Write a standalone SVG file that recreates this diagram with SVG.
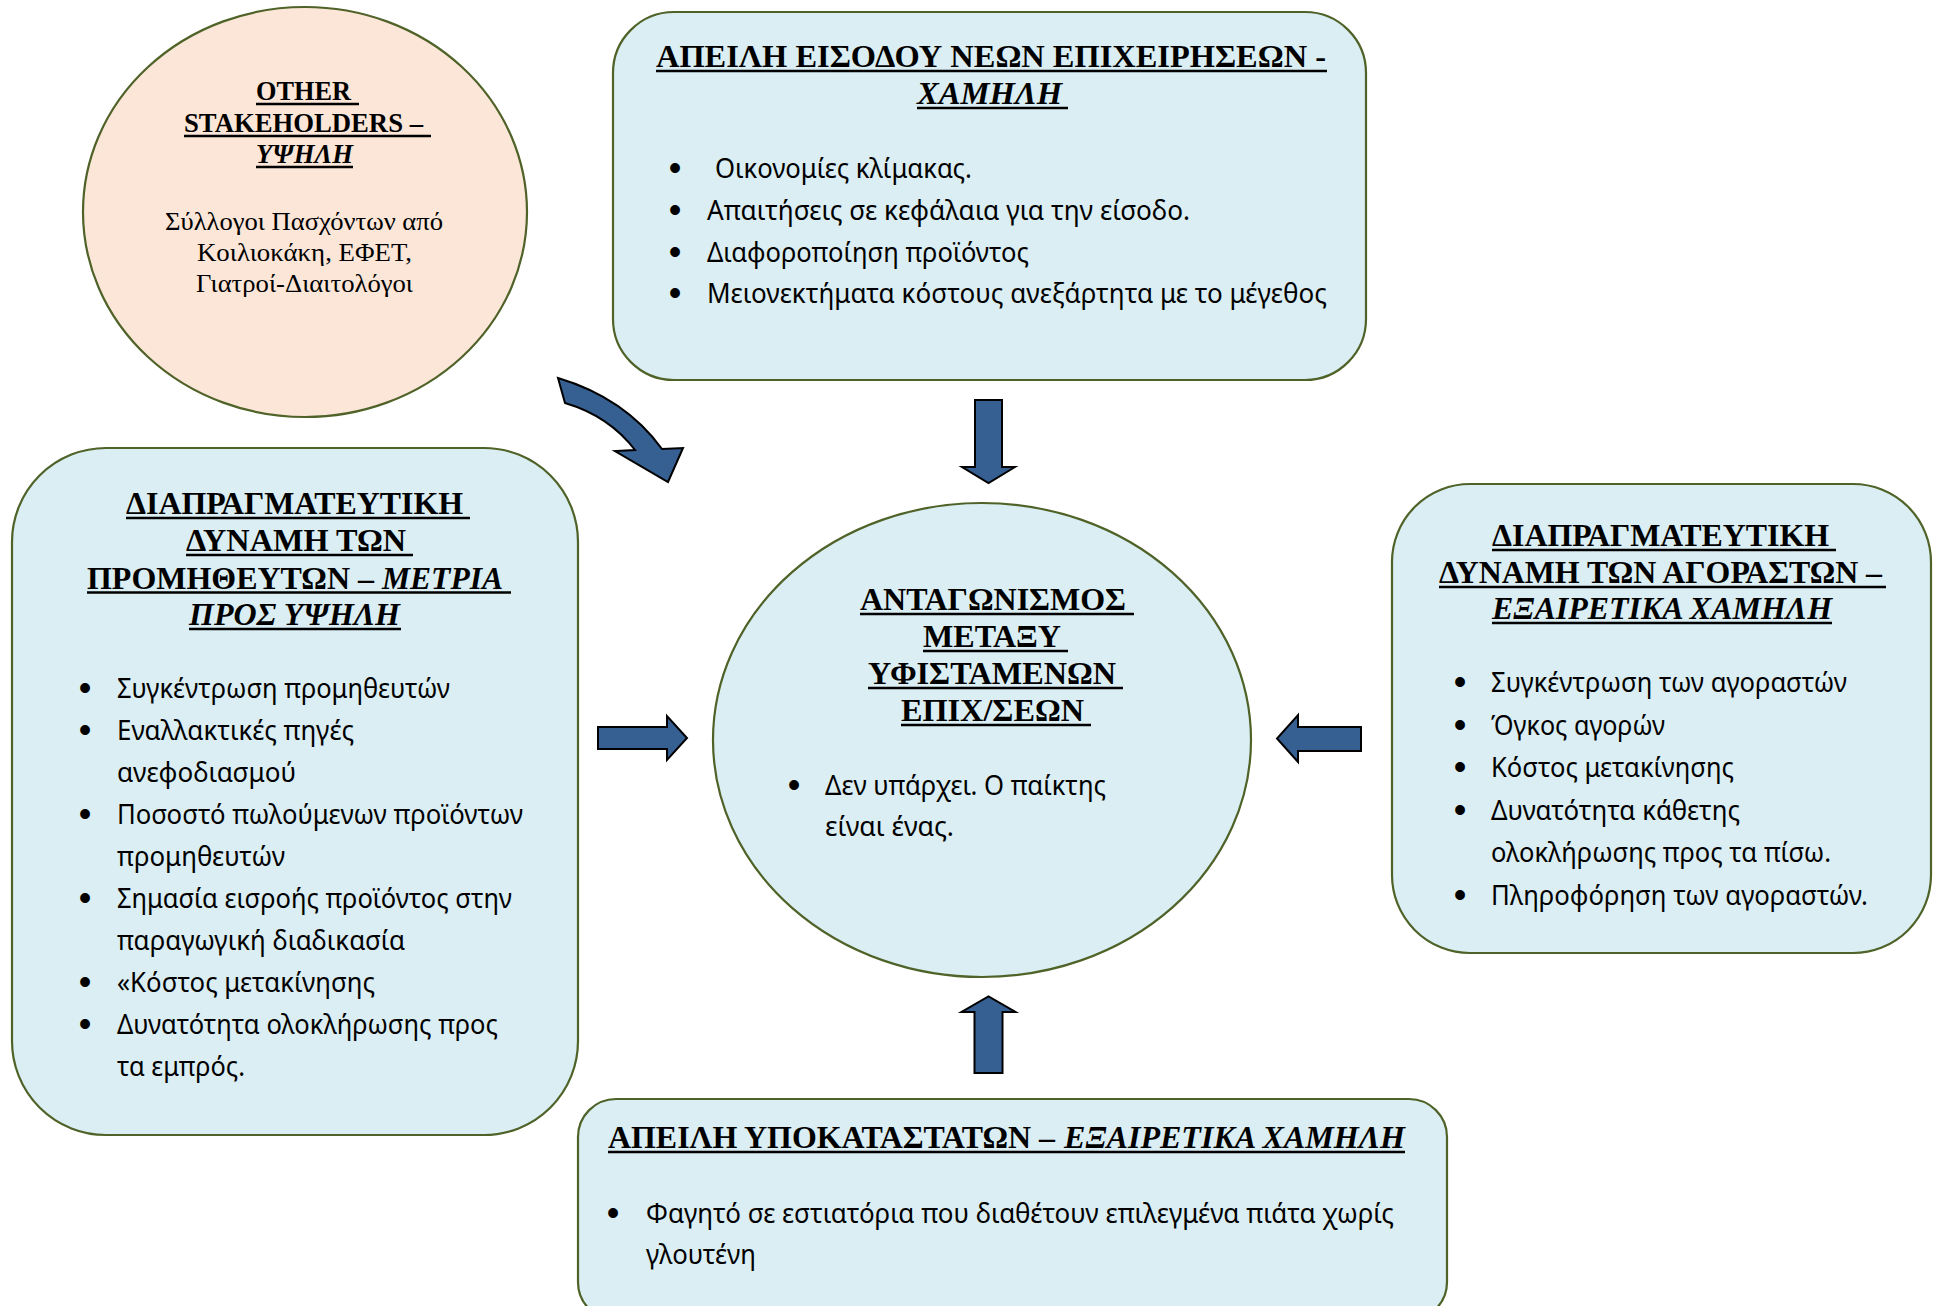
<svg xmlns="http://www.w3.org/2000/svg" width="1935" height="1306" viewBox="0 0 1935 1306">
<style>
.box{fill:#DAEEF3;stroke:#4F6228;stroke-width:2.2}
.peach{fill:#FCE6D8;stroke:#4F6228;stroke-width:2.2}
.t{font-family:"Liberation Serif","Times New Roman",serif;font-weight:bold;font-size:32px;fill:#000}
.ti{font-family:"Liberation Serif","Times New Roman",serif;font-weight:bold;font-style:italic;font-size:32px;fill:#000}
.st{font-family:"Liberation Serif","Times New Roman",serif;font-weight:bold;font-size:27px;fill:#000}
.sti{font-family:"Liberation Serif","Times New Roman",serif;font-weight:bold;font-style:italic;font-size:27px;fill:#000}
.sb{font-family:"Liberation Serif","Times New Roman",serif;font-size:25px;fill:#000}
.b{font-family:"Noto Sans","Open Sans","DejaVu Sans",sans-serif;font-size:28px;fill:#000}
.d{font-family:"Liberation Sans",Arial,sans-serif;font-size:36px;fill:#000;text-anchor:middle}
.ul{stroke:#000;stroke-width:2.6}
.arr{fill:#376092;stroke:#000;stroke-width:2;stroke-linejoin:miter}
</style>

<g id="connectors">
<path class="arr" d="M558 378 Q625 398 662 449 L683 448 L668 482 L615 451 L635 450 Q609 416 565 403 Z"/>
<path class="arr" d="M975 400 H1002 V467 H1015 L988.5 483 L962 467 H975 Z"/>
<path class="arr" d="M974.5 1073 V1012 H961.5 L988.5 996.5 L1015.5 1012 H1002.5 V1073 Z"/>
<path class="arr" d="M598 727 H667 V716 L687 738 L667 760 V749 H598 Z"/>
<path class="arr" d="M1361 727 H1298 V715 L1277 738.5 L1298 762 V751 H1361 Z"/>
</g>

<g id="node-stakeholders">
<ellipse class="peach" cx="305" cy="212" rx="222" ry="205"/>
<text class="st" x="256" y="100" textLength="95" lengthAdjust="spacingAndGlyphs">OTHER</text>
<line class="ul" x1="256" y1="104" x2="359" y2="104"/>
<text class="st" x="184" y="132" textLength="239" lengthAdjust="spacingAndGlyphs">STAKEHOLDERS –</text>
<line class="ul" x1="184" y1="136" x2="431" y2="136"/>
<text class="sti" x="256" y="163" textLength="97" lengthAdjust="spacingAndGlyphs">ΥΨΗΛΗ</text>
<line class="ul" x1="256" y1="167" x2="353" y2="167"/>
<text class="sb" x="165" y="230" textLength="278" lengthAdjust="spacingAndGlyphs">Σύλλογοι Πασχόντων από</text>
<text class="sb" x="197" y="261" textLength="215" lengthAdjust="spacingAndGlyphs">Κοιλιοκάκη, ΕΦΕΤ,</text>
<text class="sb" x="196" y="292" textLength="217" lengthAdjust="spacingAndGlyphs">Γιατροί-Διαιτολόγοι</text>
</g>

<g id="node-new-entrants">
<rect class="box" x="613" y="12" width="753" height="368" rx="61" ry="61"/>
<text class="t" x="656" y="67" textLength="670" lengthAdjust="spacingAndGlyphs">ΑΠΕΙΛΗ ΕΙΣΟΔΟΥ ΝΕΩΝ  ΕΠΙΧΕΙΡΗΣΕΩΝ -</text>
<line class="ul" x1="656" y1="71" x2="1327" y2="71"/>
<text class="ti" x="917" y="104" textLength="145" lengthAdjust="spacingAndGlyphs">ΧΑΜΗΛΗ</text>
<line class="ul" x1="917" y1="108" x2="1068" y2="108"/>
<text class="d" x="675" y="180">•</text>
<text class="b" x="715" y="178" textLength="257" lengthAdjust="spacingAndGlyphs">Οικονομίες κλίμακας.</text>
<text class="d" x="675" y="222">•</text>
<text class="b" x="707" y="220" textLength="483" lengthAdjust="spacingAndGlyphs">Απαιτήσεις σε κεφάλαια για την είσοδο.</text>
<text class="d" x="675" y="263.5">•</text>
<text class="b" x="707" y="261.5" textLength="322" lengthAdjust="spacingAndGlyphs">Διαφοροποίηση προϊόντος</text>
<text class="d" x="675" y="305">•</text>
<text class="b" x="707" y="303" textLength="620" lengthAdjust="spacingAndGlyphs">Μειονεκτήματα κόστους ανεξάρτητα με το μέγεθος</text>
</g>

<g id="node-suppliers">
<rect class="box" x="12" y="448" width="566" height="687" rx="94" ry="94"/>
<text class="t" x="126" y="514" textLength="337" lengthAdjust="spacingAndGlyphs">ΔΙΑΠΡΑΓΜΑΤΕΥΤΙΚΗ</text>
<line class="ul" x1="126" y1="518" x2="470" y2="518"/>
<text class="t" x="186" y="551" textLength="220" lengthAdjust="spacingAndGlyphs">ΔΥΝΑΜΗ ΤΩΝ</text>
<line class="ul" x1="186" y1="555" x2="413" y2="555"/>
<text class="t" x="87" y="588.5" textLength="287" lengthAdjust="spacingAndGlyphs">ΠΡΟΜΗΘΕΥΤΩΝ –</text>
<text class="ti" x="382" y="588.5" textLength="121" lengthAdjust="spacingAndGlyphs">ΜΕΤΡΙΑ</text>
<line class="ul" x1="87" y1="592.5" x2="511" y2="592.5"/>
<text class="ti" x="189" y="625" textLength="211" lengthAdjust="spacingAndGlyphs">ΠΡΟΣ ΥΨΗΛΗ</text>
<line class="ul" x1="189" y1="629" x2="401" y2="629"/>
<text class="d" x="85" y="700">•</text>
<text class="b" x="117" y="698" textLength="333" lengthAdjust="spacingAndGlyphs">Συγκέντρωση προμηθευτών</text>
<text class="d" x="85" y="742">•</text>
<text class="b" x="117" y="740" textLength="237" lengthAdjust="spacingAndGlyphs">Εναλλακτικές πηγές</text>
<text class="b" x="117" y="782" textLength="179" lengthAdjust="spacingAndGlyphs">ανεφοδιασμού</text>
<text class="d" x="85" y="826">•</text>
<text class="b" x="117" y="824" textLength="406" lengthAdjust="spacingAndGlyphs">Ποσοστό πωλούμενων προϊόντων</text>
<text class="b" x="117" y="866" textLength="168" lengthAdjust="spacingAndGlyphs">προμηθευτών</text>
<text class="d" x="85" y="910">•</text>
<text class="b" x="117" y="908" textLength="395" lengthAdjust="spacingAndGlyphs">Σημασία εισροής προϊόντος στην</text>
<text class="b" x="117" y="950" textLength="288" lengthAdjust="spacingAndGlyphs">παραγωγική διαδικασία</text>
<text class="d" x="85" y="994">•</text>
<text class="b" x="117" y="992" textLength="258" lengthAdjust="spacingAndGlyphs">«Κόστος μετακίνησης</text>
<text class="d" x="85" y="1036">•</text>
<text class="b" x="117" y="1034" textLength="381" lengthAdjust="spacingAndGlyphs">Δυνατότητα ολοκλήρωσης προς</text>
<text class="b" x="117" y="1076" textLength="128" lengthAdjust="spacingAndGlyphs">τα εμπρός.</text>
</g>

<g id="node-rivalry">
<ellipse class="box" cx="982" cy="740" rx="269" ry="237"/>
<text class="t" x="860" y="610" textLength="266" lengthAdjust="spacingAndGlyphs">ΑΝΤΑΓΩΝΙΣΜΟΣ</text>
<line class="ul" x1="860" y1="614" x2="1134" y2="614"/>
<text class="t" x="923" y="647" textLength="138" lengthAdjust="spacingAndGlyphs">ΜΕΤΑΞΥ</text>
<line class="ul" x1="923" y1="651" x2="1068" y2="651"/>
<text class="t" x="868" y="684" textLength="248" lengthAdjust="spacingAndGlyphs">ΥΦΙΣΤΑΜΕΝΩΝ</text>
<line class="ul" x1="868" y1="688" x2="1123" y2="688"/>
<text class="t" x="901" y="721" textLength="183" lengthAdjust="spacingAndGlyphs">ΕΠΙΧ/ΣΕΩΝ</text>
<line class="ul" x1="901" y1="725" x2="1091" y2="725"/>
<text class="d" x="794" y="797">•</text>
<text class="b" x="825" y="795" textLength="281" lengthAdjust="spacingAndGlyphs">Δεν υπάρχει. Ο παίκτης</text>
<text class="b" x="825" y="836" textLength="129" lengthAdjust="spacingAndGlyphs">είναι ένας.</text>
</g>

<g id="node-buyers">
<rect class="box" x="1392" y="484" width="539" height="469" rx="78" ry="78"/>
<text class="t" x="1492" y="546" textLength="337" lengthAdjust="spacingAndGlyphs">ΔΙΑΠΡΑΓΜΑΤΕΥΤΙΚΗ</text>
<line class="ul" x1="1492" y1="550" x2="1836" y2="550"/>
<text class="t" x="1439" y="583" textLength="443" lengthAdjust="spacingAndGlyphs">ΔΥΝΑΜΗ ΤΩΝ ΑΓΟΡΑΣΤΩΝ –</text>
<line class="ul" x1="1439" y1="587" x2="1886" y2="587"/>
<text class="ti" x="1492" y="619" textLength="340" lengthAdjust="spacingAndGlyphs">ΕΞΑΙΡΕΤΙΚΑ ΧΑΜΗΛΗ</text>
<line class="ul" x1="1492" y1="623" x2="1832" y2="623"/>
<text class="d" x="1460" y="694">•</text>
<text class="b" x="1491" y="692" textLength="356" lengthAdjust="spacingAndGlyphs">Συγκέντρωση των αγοραστών</text>
<text class="d" x="1460" y="736.6">•</text>
<text class="b" x="1491" y="734.6" textLength="174" lengthAdjust="spacingAndGlyphs">Όγκος αγορών</text>
<text class="d" x="1460" y="779.2">•</text>
<text class="b" x="1491" y="777.2" textLength="243" lengthAdjust="spacingAndGlyphs">Κόστος μετακίνησης</text>
<text class="d" x="1460" y="821.8">•</text>
<text class="b" x="1491" y="819.8" textLength="249" lengthAdjust="spacingAndGlyphs">Δυνατότητα κάθετης</text>
<text class="b" x="1491" y="862.4" textLength="340" lengthAdjust="spacingAndGlyphs">ολοκλήρωσης προς τα πίσω.</text>
<text class="d" x="1460" y="907">•</text>
<text class="b" x="1491" y="905" textLength="377" lengthAdjust="spacingAndGlyphs">Πληροφόρηση των αγοραστών.</text>
</g>

<g id="node-substitutes">
<rect class="box" x="578" y="1099" width="869" height="221" rx="38" ry="38"/>
<text class="t" x="608" y="1148" textLength="447" lengthAdjust="spacingAndGlyphs">ΑΠΕΙΛΗ ΥΠΟΚΑΤΑΣΤΑΤΩΝ –</text>
<text class="ti" x="1064" y="1148" textLength="341" lengthAdjust="spacingAndGlyphs">ΕΞΑΙΡΕΤΙΚΑ ΧΑΜΗΛΗ</text>
<line class="ul" x1="608" y1="1152" x2="1405" y2="1152"/>
<text class="d" x="613" y="1225">•</text>
<text class="b" x="646" y="1223" textLength="748" lengthAdjust="spacingAndGlyphs">Φαγητό σε εστιατόρια που διαθέτουν επιλεγμένα πιάτα χωρίς</text>
<text class="b" x="646" y="1264" textLength="110" lengthAdjust="spacingAndGlyphs">γλουτένη</text>
</g>
</svg>
